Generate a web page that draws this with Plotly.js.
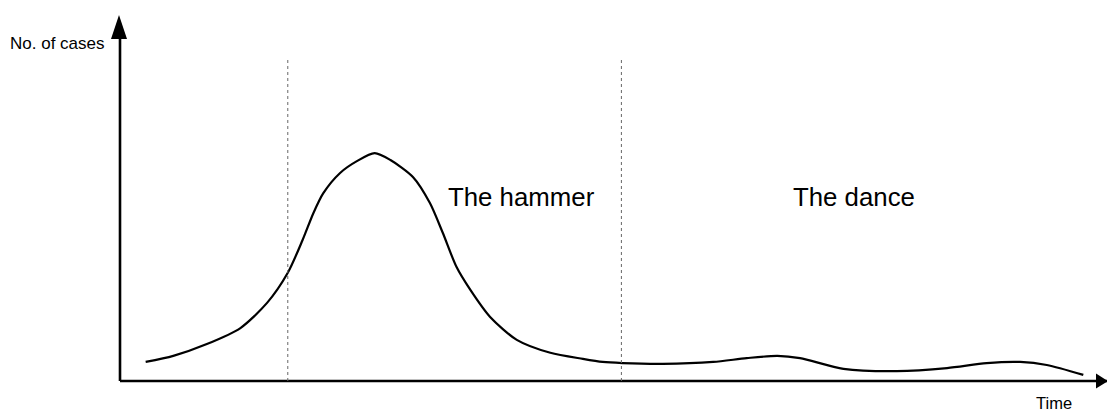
<!DOCTYPE html>
<html>
<head>
<meta charset="utf-8">
<script src="https://cdn.plot.ly/plotly-3.0.1.min.js"></script>
<style>
  html, body { margin: 0; padding: 0; background: #fff; }
  #chart { width: 1107px; height: 412px; }
</style>
</head>
<body>
<div id="chart"></div>
<script>
// Epidemic curve (arbitrary units: time 0-100, cases 0-100)
const time  = [2.6, 5.4, 8.8, 12.2, 14.9, 17.0, 18.5, 19.6, 20.6, 22.3, 24.0, 25.8,
               27.4, 29.7, 31.4, 32.7, 34.1, 35.5, 37.5, 40.2, 43.6, 46.9, 48.9,
               50.9, 55.0, 60.1, 63.5, 66.6, 68.9, 73.3, 78.7, 83.8, 87.8, 91.2, 93.9, 97.6];
const cases = [5.0, 6.6, 9.7, 13.9, 20.5, 28.4, 37.0, 44.1, 49.3, 54.6, 57.7, 59.8,
               58.0, 53.5, 46.7, 38.9, 29.9, 23.9, 16.8, 10.8, 7.4, 5.8, 5.0,
               4.7, 4.5, 5.0, 6.0, 6.6, 6.0, 3.2, 2.6, 3.4, 4.7, 5.0, 4.2, 1.6];

// Phase boundaries (time) and phase labels
const phaseBounds = [17.0, 50.8];
const phaseLabels = ["The hammer", "The dance"];
const phaseLabelX = [33.0, 68.0];

const yAxisLabel = "No. of cases";
const xAxisLabel = "Time";

const trace = {
  x: time, y: cases, type: 'scatter', mode: 'lines',
  line: { color: '#000', width: 2.2, shape: 'spline', smoothing: 0.75 },
  hoverinfo: 'skip', cliponaxis: false
};

const shapes = [];
// axes
shapes.push({ type: 'line', xref: 'x', yref: 'y', x0: 0, y0: 0, x1: 100, y1: 0,
              line: { color: '#000', width: 2.6 } });
shapes.push({ type: 'line', xref: 'x', yref: 'y', x0: 0, y0: 0, x1: 0, y1: 92,
              line: { color: '#000', width: 2.6 } });
// arrowheads
shapes.push({ type: 'path', xref: 'x', yref: 'y', xsizemode: 'pixel', ysizemode: 'pixel',
              xanchor: 0, yanchor: 96.06, path: 'M -1,0 L -9,-24 L 7,-24 Z',
              fillcolor: '#000', line: { width: 0 } });
shapes.push({ type: 'path', xref: 'x', yref: 'y', xsizemode: 'pixel', ysizemode: 'pixel',
              xanchor: 100, yanchor: 0, path: 'M 1,0 L -11,7.5 L -11,-7.5 Z',
              fillcolor: '#000', line: { width: 0 } });
// phase dividers
phaseBounds.forEach(b => {
  shapes.push({ type: 'line', xref: 'x', yref: 'y', x0: b, x1: b, y0: 0, y1: 84.3,
                line: { color: '#666', width: 1, dash: 'dot' } });
});

const annotations = [
  { text: yAxisLabel, xref: 'x', yref: 'y', x: -1.3, y: 88.7, xanchor: 'right', yanchor: 'middle',
    showarrow: false, font: { family: 'Liberation Sans, Arial, sans-serif', size: 17, color: '#000' } },
  { text: xAxisLabel, xref: 'x', yref: 'y', x: 94.6, y: -5.9, xanchor: 'center', yanchor: 'middle',
    showarrow: false, font: { family: 'Liberation Sans, Arial, sans-serif', size: 16.5, color: '#000' } }
];
phaseLabels.forEach((t, i) => {
  annotations.push({ text: t, xref: 'x', yref: 'y', x: phaseLabelX[i], y: 48.2,
    xanchor: 'left', yanchor: 'middle', showarrow: false,
    font: { family: 'Liberation Sans, Arial, sans-serif', size: 25.8, color: '#000' } });
});

const layout = {
  width: 1107, height: 412,
  margin: { l: 0, r: 0, t: 0, b: 0, pad: 0 },
  paper_bgcolor: '#fff', plot_bgcolor: '#fff',
  showlegend: false,
  xaxis: { range: [-12.158, 100], showgrid: false, zeroline: false, showticklabels: false,
           showline: false, ticks: '', fixedrange: true },
  yaxis: { range: [-8.136, 100], showgrid: false, zeroline: false, showticklabels: false,
           showline: false, ticks: '', fixedrange: true },
  shapes: shapes,
  annotations: annotations
};

Plotly.newPlot('chart', [trace], layout, { displayModeBar: false, staticPlot: true });
</script>
</body>
</html>
